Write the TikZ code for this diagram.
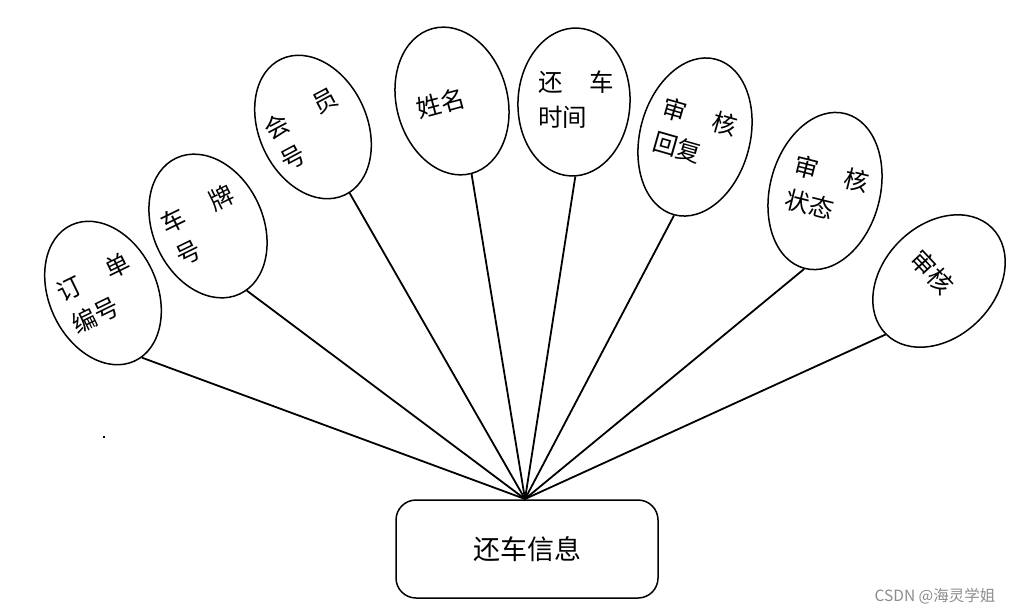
\documentclass[tikz,border=0pt]{standalone}
\usepackage{fontspec}
\setmainfont{Noto Sans CJK SC}
\usetikzlibrary{shapes.geometric}
\tikzset{
  attr/.style={ellipse, draw, line width=1.5pt, inner sep=0pt},
  lbl/.style={font=\fontsize{24.5}{35}\selectfont, align=left, inner sep=0pt},
  conn/.style={line width=1.8pt},
  entity/.style={draw, line width=1.5pt, rounded corners=20pt, minimum width=262pt, minimum height=98pt, font=\fontsize{27}{30}\selectfont}
}
\begin{document}
\begin{tikzpicture}[x=1pt,y=-1pt]
\useasboundingbox (0,0) rectangle (1019,614);
% ellipses
\node[attr, minimum width=108pt, minimum height=150pt, rotate=25] (e1) at (103,293) {};
\node[attr, minimum width=110pt, minimum height=150pt, rotate=25] (e2) at (208,226) {};
\node[attr, minimum width=108pt, minimum height=150pt, rotate=25] (e3) at (313,127) {};
\node[attr, minimum width=111pt, minimum height=150pt, rotate=15] (e4) at (452,101) {};
\node[attr, minimum width=112pt, minimum height=148pt, rotate=-3] (e5) at (574,102) {};
\node[attr, minimum width=110pt, minimum height=161pt, rotate=-15] (e6) at (695,137) {};
\node[attr, minimum width=110pt, minimum height=160pt, rotate=-15] (e7) at (825,191) {};
\node[attr, minimum width=112pt, minimum height=150pt, rotate=-45] (e8) at (939,281) {};
% labels
\node[lbl, rotate=26] (t1) at (101,293) {订\hspace{1.2em}单\\编号};
\node[lbl, rotate=26] (t2) at (205,225) {车\hspace{1.2em}牌\\号};
\node[lbl, rotate=28] (t3) at (309,129) {会\hspace{1.2em}员\\号};
\node[lbl, rotate=15] (t4) at (441,103) {姓名};
\node[lbl] (t5) at (576,100) {还\hspace{1.1em}车\\时间};
\node[lbl, rotate=-16] (t6) at (695,134) {审\hspace{1.1em}核\\回复};
\node[lbl, rotate=-14] (t7) at (827,191) {审\hspace{1.1em}核\\状态};
\node[lbl, rotate=-47] (t8) at (932,272) {审核};
% entity
\node[entity] (ent) at (527,549) {还车信息};
\coordinate (apex) at (525,499);
\draw[conn] (e1.-84) -- (apex);
\draw[conn] (e2.-84) -- (apex);
\draw[conn] (e3.-86) -- (apex);
\draw[conn] (e4.south) -- (apex);
\draw[conn] (e5.-86) -- (apex);
\draw[conn] (e6.south) -- (apex);
\draw[conn] (e7.south) -- (apex);
\draw[conn] (e8.south) -- (apex);
% stray dot
\fill (103,436) rectangle (105,438);
% watermark
\node[font=\fontsize{15.5}{18}\selectfont, text=black!45, inner sep=0pt] (wm) at (935,596) {CSDN @海灵学姐};
\end{tikzpicture}
\end{document}
